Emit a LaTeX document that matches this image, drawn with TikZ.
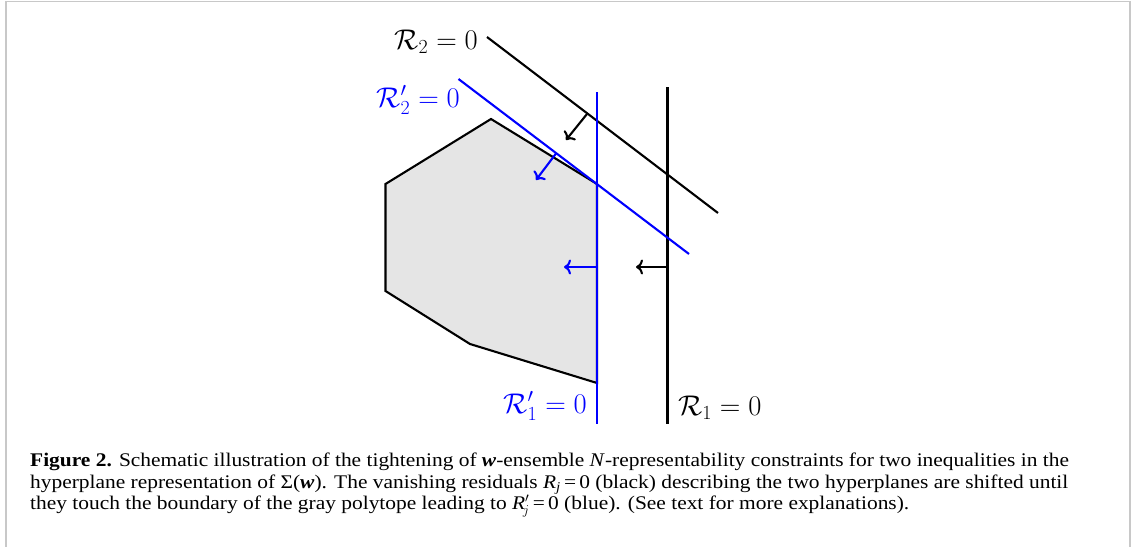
\RequirePackage{fix-cm}
\documentclass[tikz,border=0pt]{standalone}
\usepackage{fontspec}
\usepackage{amsmath,amssymb}
\usetikzlibrary{arrows.meta}
\newfontfamily\capfont[FakeStretch=1.11]{Liberation Serif}
\definecolor{framegray}{RGB}{200,200,200}
\definecolor{polyfill}{RGB}{229,229,229}
\tikzset{
  frameline/.style={draw=framegray,line width=1.8pt},
  polyline/.style={draw=black,fill=polyfill,line width=2.1pt,line join=miter},
  blackplane/.style={draw=black,line width=2.1pt},
  blueplane/.style={draw=blue,line width=2.1pt},
  shiftarrow/.style={-{Computer Modern Rightarrow[length=7pt,width=15pt]},line width=2.1pt},
  planelabel/.style={inner sep=0pt,font=\fontsize{28.5}{34}\selectfont},
  captext/.style={inner sep=0pt,align=left,font=\capfont\fontsize{19.3}{21.5}\selectfont}
}
\begin{document}
\begin{tikzpicture}[x=1pt,y=-1pt]
\useasboundingbox (0,0) rectangle (1139,546);
% frame
\draw[frameline] (6,547) -- (6,1.5) -- (1130,1.5) -- (1130,547);
% polytope
\coordinate (p1) at (491,119);
\coordinate (p2) at (385.5,184);
\coordinate (p3) at (385.5,291);
\coordinate (p4) at (470,344);
\coordinate (p5) at (597,383);
\coordinate (p6) at (597,184);
\path[polyline] (p1) -- (p2) -- (p3) -- (p4) -- (p5) -- (p6) -- cycle;
% hyperplanes
\coordinate (b1t) at (667.5,87);
\coordinate (b1b) at (667.5,424);
\coordinate (l1t) at (597,92);
\coordinate (l1b) at (597,424);
\coordinate (b2s) at (487,37);
\coordinate (b2e) at (718,213);
\coordinate (l2s) at (458.5,79);
\coordinate (l2e) at (689,254);
\draw[blackplane] (b1t) -- (b1b);
\draw[blackplane] (b2s) -- (b2e);
\draw[blueplane] (l1t) -- (l1b);
\draw[blueplane] (l2s) -- (l2e);
% shift arrows
\coordinate (a1s) at (667.5,267);
\coordinate (a1e) at (636,267);
\coordinate (a2s) at (597,267);
\coordinate (a2e) at (564,267);
\coordinate (a3s) at (587,114);
\coordinate (a3e) at (566,140);
\coordinate (a4s) at (556,153.5);
\coordinate (a4e) at (536,180);
\draw[shiftarrow] (a1s) -- (a1e);
\draw[shiftarrow,blue] (a2s) -- (a2e);
\draw[shiftarrow] (a3s) -- (a3e);
\draw[shiftarrow,blue] (a4s) -- (a4e);
% labels
\node[planelabel,anchor=base east] (lr2) at (478,49) {$\mathcal{R}_2=0$};
\node[planelabel,anchor=base east,text=blue] (lr2p) at (460,107) {$\mathcal{R}'_2=0$};
\node[planelabel,anchor=base east,text=blue] (lr1p) at (587,413) {$\mathcal{R}'_1=0$};
\node[planelabel,anchor=base west] (lr1) at (678,415) {$\mathcal{R}_1=0$};
% caption
\node[captext,anchor=north west] (cap) at (30,453) {\textbf{Figure 2.} Schematic illustration of the tightening of \textbf{\textit{w}}-ensemble \textit{N}-representability constraints for two inequalities in the\\
hyperplane representation of Σ(\textbf{\textit{w}}). The vanishing residuals \textit{R\textsubscript{j}}\,=\,0 (black) describing the two hyperplanes are shifted until\\
they touch the boundary of the gray polytope leading to \textit{R}\smash{$'_{\!j}$}\,=\,0 (blue). (See text for more explanations).};
\end{tikzpicture}
\end{document}
